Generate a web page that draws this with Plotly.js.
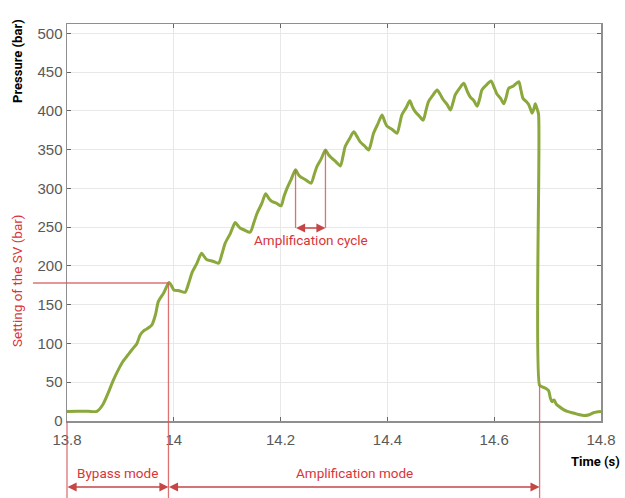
<!DOCTYPE html>
<html>
<head>
<meta charset="utf-8">
<script src="https://cdn.plot.ly/plotly-3.0.1.min.js"></script>
<style>html,body{margin:0;padding:0;background:#fff;}#chart{width:625px;height:498px;}</style>
</head>
<body>
<div id="chart"></div>
<script>
// ---- data ----
const timeS = [13.800,13.820,13.840,13.856,13.867,13.877,13.887,13.896,13.905,13.915,13.924,13.931,13.937,13.943,13.949,13.959,13.966,13.971,13.981,13.991,13.996,14.000,14.010,14.021,14.028,14.034,14.043,14.052,14.057,14.062,14.073,14.084,14.090,14.096,14.106,14.115,14.120,14.124,14.133,14.143,14.150,14.156,14.165,14.172,14.178,14.184,14.192,14.201,14.206,14.212,14.220,14.228,14.233,14.237,14.247,14.257,14.263,14.268,14.276,14.284,14.290,14.296,14.304,14.312,14.317,14.321,14.329,14.337,14.343,14.349,14.357,14.365,14.370,14.374,14.382,14.390,14.395,14.399,14.409,14.418,14.423,14.427,14.435,14.442,14.447,14.452,14.460,14.467,14.472,14.477,14.485,14.493,14.499,14.505,14.512,14.518,14.523,14.527,14.535,14.543,14.549,14.555,14.562,14.568,14.573,14.577,14.585,14.594,14.600,14.605,14.612,14.618,14.623,14.627,14.636,14.646,14.650,14.654,14.660,14.665,14.671,14.674,14.677,14.680,14.683,14.685,14.690,14.697,14.702,14.705,14.708,14.712,14.716,14.721,14.729,14.737,14.750,14.760,14.768,14.778,14.787,14.800];
const pressureBar = [12.4,12.6,12.5,12.5,21,36,53,66,77,86,94,100,111,116,118.5,124,138,154,165,178.6,174,169,168,166,178,191,203,216.5,212,208,206,203.6,215,229,242,256,252,249,246,243.5,256,268,281,293,287,283,281,277.5,289,300,312,324,318,315,311,306.7,318,328,338,349.6,343,339,334,329,342,354,364,373,367,360,355,349.6,360,371,383,394.7,386,380.5,376,371,383,394.7,404,413,405,399,393,388,400,412,420,427,421,414,408,401,411,420.5,429,435.6,426,418,413,406,416,427,433,438.5,430,421.8,416,409,419,429,432,437.6,427,416,412,407.6,397,402,409,403,396,46,44,42,39,30,25,27,22,19,15,12.4,10,8,7,8,11,12.4];

const xTickVals = [13.8,14,14.2,14.4,14.6,14.8];
const yTickVals = [0,50,100,150,200,250,300,350,400,450,500];
const xRange = [13.8,14.8];
const yRange = [0,512];

// annotation values
const svSetting = 178;                 // bar
const modeTimes = [13.8, 13.99, 14.685]; // bypass start, amplification start, amplification end
const modeEndPressure = 46;             // bar at end of amplification
const cycleTimes = [14.228, 14.284];
const cyclePeaks = [324, 350];
const cycleArrowP = 249;
const modeLabels = ['Bypass mode','Amplification mode'];

// ---- layout helpers ----
const W = 625, H = 498, M = {l:67, r:24, t:24, b:77};
const pw = W - M.l - M.r, ph = H - M.t - M.b;
const PX = px => (px - M.l) / pw;          // pixel x -> paper
const PY = py => (H - M.b - py) / ph;      // pixel y -> paper
const TX = t => (t - xRange[0]) / (xRange[1] - xRange[0]); // data -> paper
const TY = p => (p - yRange[0]) / (yRange[1] - yRange[0]);

const red = '#d9343a', redLine = 'rgba(214,90,90,0.85)', redArrow = '#c64646';
const arrowY = PY(487), bottomY = PY(498);

const shapes = [
  {type:'line', xref:'paper', yref:'paper', x0:PX(33), x1:TX(modeTimes[1]), y0:TY(svSetting), y1:TY(svSetting), line:{color:redLine, width:1.3}},
  {type:'line', xref:'paper', yref:'paper', x0:TX(modeTimes[0]), x1:TX(modeTimes[0]), y0:0, y1:bottomY, line:{color:redLine, width:1.3}},
  {type:'line', xref:'paper', yref:'paper', x0:TX(modeTimes[1]), x1:TX(modeTimes[1]), y0:TY(svSetting), y1:bottomY, line:{color:redLine, width:1.3}},
  {type:'line', xref:'paper', yref:'paper', x0:TX(modeTimes[2]), x1:TX(modeTimes[2]), y0:TY(modeEndPressure), y1:bottomY, line:{color:redLine, width:1.3}},
  {type:'line', xref:'x', yref:'y', x0:cycleTimes[0], x1:cycleTimes[0], y0:cycleArrowP, y1:cyclePeaks[0], line:{color:redLine, width:1.3}},
  {type:'line', xref:'x', yref:'y', x0:cycleTimes[1], x1:cycleTimes[1], y0:cycleArrowP, y1:cyclePeaks[1], line:{color:redLine, width:1.3}}
];

function dblArrow(xa, xb, y, yref){
  return {xref:'x', yref:yref, x:xb, y:y, axref:'x', ayref:'pixel', ax:xa, ay:0, text:'', showarrow:true,
    arrowside:'end+start', arrowhead:2, startarrowhead:2, arrowsize:1.3, startarrowsize:1.3, arrowwidth:1.4,
    arrowcolor:redArrow, standoff:0, startstandoff:0, borderpad:0};
}

const redFont = {family:'Roboto, "Open Sans", sans-serif', size:13.5, color:red};
const blackFont = {family:'Roboto, "Open Sans", sans-serif', size:13, color:'#000'};

const annotations = [
  dblArrow(modeTimes[0], modeTimes[1], arrowY, 'paper'),
  dblArrow(modeTimes[1], modeTimes[2], arrowY, 'paper'),
  dblArrow(cycleTimes[0], cycleTimes[1], cycleArrowP, 'y'),
  {xref:'paper', yref:'paper', x:(TX(modeTimes[0])+TX(modeTimes[1]))/2, y:PY(473), text:modeLabels[0], showarrow:false, font:redFont, xanchor:'center', yanchor:'middle'},
  {xref:'paper', yref:'paper', x:(TX(modeTimes[1])+TX(modeTimes[2]))/2, y:PY(473), text:modeLabels[1], showarrow:false, font:redFont, xanchor:'center', yanchor:'middle'},
  {xref:'x', yref:'y', x:(cycleTimes[0]+cycleTimes[1])/2, y:233, text:'Amplification cycle', showarrow:false, font:redFont, xanchor:'center', yanchor:'middle'},
  {xref:'paper', yref:'paper', x:PX(17), y:PY(281), text:'Setting of the SV (bar)', textangle:-90, showarrow:false, font:redFont, xanchor:'center', yanchor:'middle'},
  {xref:'paper', yref:'paper', x:PX(17), y:PY(61), text:'<b>Pressure (bar)</b>', textangle:-90, showarrow:false, font:blackFont, xanchor:'center', yanchor:'middle'},
  {xref:'paper', yref:'paper', x:PX(595), y:PY(461), text:'<b>Time (s)</b>', showarrow:false, font:blackFont, xanchor:'center', yanchor:'middle'}
];

const axisCommon = {
  showgrid:true, gridcolor:'#e8e8e8', gridwidth:1,
  showline:true, linecolor:'#8f8f8f', linewidth:1.5, mirror:'ticks',
  ticks:'inside', ticklen:4, tickcolor:'#666', tickwidth:1,
  zeroline:false,
  tickfont:{family:'"Liberation Sans", Arial, sans-serif', size:15, color:'#595959'}
};

const trace = {
  x: timeS, y: pressureBar, type:'scatter', mode:'lines',
  line:{color:'#8aa83c', width:3, shape:'spline', smoothing:0.7},
  hoverinfo:'none'
};

const layout = {
  width:W, height:H, margin:M,
  paper_bgcolor:'#fff', plot_bgcolor:'#fff', showlegend:false,
  xaxis: Object.assign({}, axisCommon, {range:xRange, tickvals:xTickVals, ticktext:xTickVals.map(String), ticklabelstandoff:4}),
  yaxis: Object.assign({}, axisCommon, {range:yRange, tickvals:yTickVals, ticktext:yTickVals.map(String)}),
  shapes: shapes, annotations: annotations
};

Plotly.newPlot('chart', [trace], layout, {staticPlot:true, displayModeBar:false});
</script>
</body>
</html>
